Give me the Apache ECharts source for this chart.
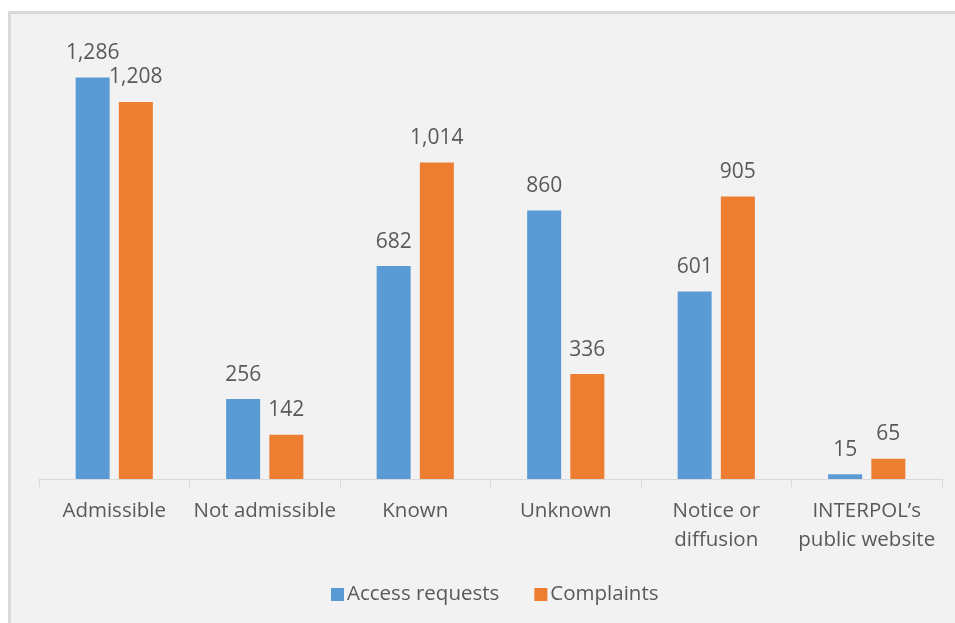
<!DOCTYPE html>
<html>
<head>
<meta charset="utf-8">
<script src="https://cdn.jsdelivr.net/npm/echarts@6/dist/echarts.min.js"></script>
<style>
  html, body { margin: 0; padding: 0; background: #ffffff; }
  #frame { position: absolute; left: 8px; top: 11px; width: 960px; height: 620px;
           background: #f2f2f2; border-top: 3px solid #d9d9d9; border-left: 3px solid #d9d9d9; box-sizing: border-box; }
  #chart { position: absolute; left: 0; top: 0; width: 955px; height: 623px; }
</style>
</head>
<body>
<div id="frame"></div>
<div id="chart"></div>
<script>
const categories = ['Admissible', 'Not admissible', 'Known', 'Unknown', 'Notice or\ndiffusion', 'INTERPOL\u2019s\npublic website'];
const accessRequests = [1286, 256, 682, 860, 601, 15];
const complaints = [1208, 142, 1014, 336, 905, 65];
const seriesNames = ['Access requests', 'Complaints'];

const FONT = '"Open Sans", "Noto Sans", sans-serif';
const TXT = '#595959';
const fmt = v => v.toLocaleString('en-US');

const chart = echarts.init(document.getElementById('chart'), null, { renderer: 'canvas' });
const labelOpt = {
  show: true, position: 'top', distance: 14, color: TXT, fontFamily: FONT, fontSize: 21,
  formatter: p => fmt(p.value)
};
chart.setOption({
  backgroundColor: 'transparent',
  animation: false,
  grid: { left: 39, right: 13, top: 42, bottom: 144, containLabel: false },
  legend: {
    left: 326, top: 579, itemWidth: 13, itemHeight: 13, itemGap: 35,
    icon: 'rect',
    textStyle: { color: TXT, fontFamily: FONT, fontSize: 20.5, padding: [0, 0, 0, -2] },
    data: seriesNames
  },
  xAxis: {
    type: 'category', data: categories,
    axisLine: { show: true, lineStyle: { color: '#d9d9d9', width: 1 } },
    axisTick: { show: true, length: 8, lineStyle: { color: '#d9d9d9' } },
    axisLabel: { color: TXT, fontFamily: FONT, fontSize: 20.5, lineHeight: 29, margin: 18, interval: 0 }
  },
  yAxis: { type: 'value', min: 0, max: 1400, show: false, splitLine: { show: false } },
  series: [
    { name: seriesNames[0], type: 'bar', data: accessRequests, barWidth: 34, barGap: '27%',
      itemStyle: { color: '#5B9BD5' }, label: labelOpt },
    { name: seriesNames[1], type: 'bar', data: complaints, barWidth: 34,
      itemStyle: { color: '#ED7D31' }, label: labelOpt }
  ]
});
</script>
</body>
</html>
